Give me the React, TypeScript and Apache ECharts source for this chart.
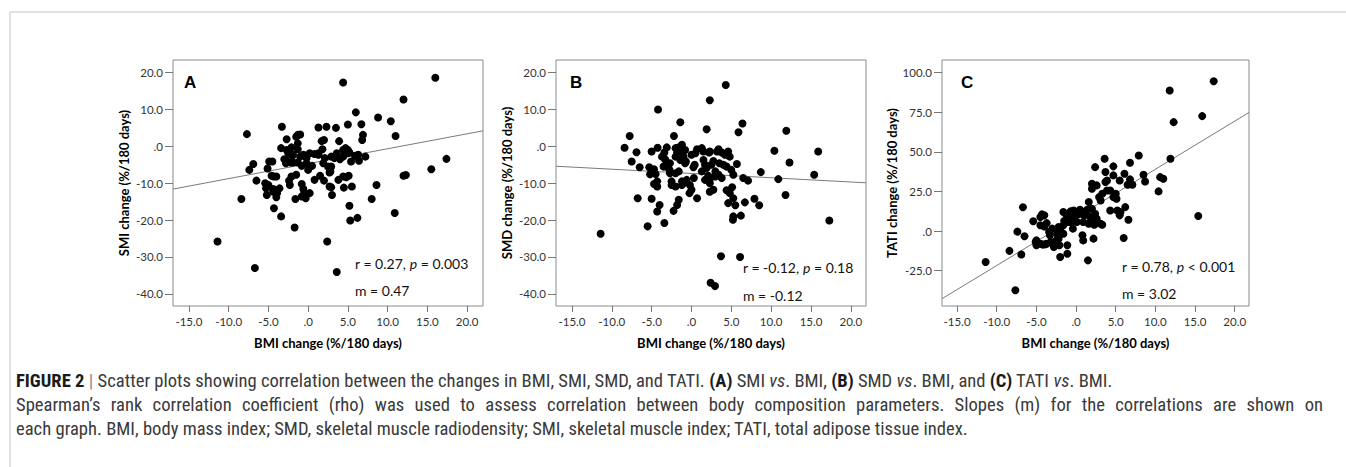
import React, { useEffect, useRef } from "react";
import * as echarts from "echarts";

const xTicks = [-15, -10, -5, 0, 5, 10, 15, 20];
const smiSmdTicks = [-40, -30, -20, -10, 0, 10, 20];
const tatiTicks = [-25, 0, 25, 50, 75, 100];

const smiPoints: number[][] = [
  [-11.4, -25.8], [-8.4, -14.3], [-7.7, 3.3], [-7.4, -6.4], [-6.9, -4.8], [-6.7, -33.0], [-6.5, -9.3],
  [-5.4, -10.0], [-5.3, -11.4], [-5.2, -13.2], [-5.1, -6.0], [-5.0, -10.5], [-4.9, -4.1], [-4.5, -4.1],
  [-4.6, -8.0], [-4.3, -8.2], [-4.4, -11.6], [-4.4, -12.3], [-4.3, -16.8], [-4.0, -8.2], [-4.0, -13.8],
  [-3.9, -12.7], [-3.6, -11.4], [-3.4, -19.0], [-3.4, -0.5], [-3.3, 5.3], [-3.0, -3.5], [-2.8, -3.7],
  [-2.8, -4.6], [-2.7, 1.9], [-2.7, -1.0], [-2.5, -1.9], [-2.4, -9.3], [-2.3, -10.5], [-2.2, -4.4],
  [-2.1, -0.3], [-2.1, -8.2], [-2.0, -2.6], [-1.9, -4.4], [-1.9, -2.3], [-1.7, -22.0], [-1.6, -14.3],
  [-1.5, 2.6], [-1.5, -7.7], [-1.3, 3.1], [-1.3, 0.8], [-1.3, -4.4], [-1.0, 3.2], [-1.3, -0.8],
  [-1.0, -2.8], [-0.8, -5.3], [-0.8, -10.2], [-0.6, -11.6], [-0.6, -2.3], [-0.5, -12.7], [-0.8, -13.6],
  [-0.3, -14.1], [-0.2, -3.2], [-0.2, -4.6], [0.0, -6.4], [0.2, -1.9], [0.2, -12.7], [0.5, -5.3],
  [0.8, -2.1], [0.8, -9.1], [1.3, 5.1], [1.3, -1.9], [1.3, -2.3], [1.5, -8.0], [1.7, 1.4], [2.0, 1.7],
  [1.8, -0.8], [1.9, -4.6], [2.0, -9.3], [2.1, -3.2], [2.3, 5.3], [2.4, -25.8], [2.5, -5.5], [2.7, -10.9],
  [2.8, -6.8], [2.9, -2.8], [2.9, -11.1], [2.9, -5.5], [2.7, -7.1], [3.0, -13.2], [3.3, -3.2], [3.5, 5.0],
  [3.6, -1.9], [3.6, -34.1], [3.8, -9.1], [3.9, 1.4], [4.0, -3.5], [4.4, 17.3], [4.4, -1.0], [4.4, -2.8],
  [4.4, -8.2], [4.5, -11.2], [4.7, -0.5], [4.8, -8.4], [5.0, 5.9], [5.0, -1.0], [5.0, -1.9], [5.1, -8.0],
  [5.2, -1.7], [5.2, -16.1], [5.3, -20.1], [5.4, -4.1], [5.5, -10.9], [5.9, -2.6], [6.0, 9.2],
  [6.2, -19.4], [6.3, -2.3], [6.4, -3.9], [6.7, 6.0], [6.8, 1.7], [6.9, 3.1], [7.2, -2.8], [8.0, -14.3],
  [8.6, -10.5], [8.8, 7.8], [10.4, 6.8], [10.9, -18.1], [11.0, 2.8], [12.0, 12.7], [12.0, -8.0],
  [12.3, -7.8], [15.5, -6.2], [16.0, 18.6], [17.4, -3.4],
];

const smdPoints: number[][] = [
  [-11.4, -23.7], [-8.4, -0.4], [-7.75, 2.8], [-7.5, -4.1], [-6.9, -1.6], [-6.75, -14.1], [-6.5, -5.7],
  [-5.5, -21.7], [-5.3, -5.7], [-5.2, -7.6], [-5.0, -1.4], [-5.0, -14.2], [-4.9, -7.1], [-4.7, -6.2],
  [-4.7, -10.2], [-4.5, -7.5], [-4.3, -10.9], [-4.3, -9.5], [-4.3, -17.7], [-4.25, -0.4], [-4.2, 10.0],
  [-4.0, -15.9], [-3.7, -2.8], [-3.5, -5.5], [-3.4, -20.8], [-3.4, -1.7], [-3.3, -3.6], [-3.1, -0.3],
  [-2.9, -5.9], [-2.75, -6.4], [-2.7, -4.6], [-2.7, -7.3], [-2.5, -9.5], [-2.5, -10.5], [-2.25, -17.5],
  [-2.2, 2.8], [-2.0, -0.5], [-2.0, -2.8], [-2.0, -7.3], [-2.0, -10.9], [-1.8, -1.7], [-1.8, -15.9],
  [-1.6, -6.8], [-1.6, -0.3], [-1.6, -14.5], [-1.4, 6.5], [-1.4, -1.4], [-1.4, -3.7], [-1.2, 0.4],
  [-1.2, -9.5], [-1.2, -10.5], [-1.0, -1.2], [-1.0, -2.8], [-0.8, -4.6], [-0.8, -1.0], [-0.7, -4.1],
  [-0.6, -9.1], [-0.9, -9.8], [-0.2, -10.5], [-0.25, -12.7], [0.0, -11.8], [0.0, -2.3], [0.25, -5.7],
  [0.3, -8.6], [0.4, -5.0], [0.5, -1.9], [0.7, -0.8], [0.7, -14.1], [1.3, -0.5], [1.3, -6.8],
  [1.5, -1.4], [1.5, -3.7], [1.7, -5.0], [1.7, -9.1], [1.9, 4.6], [1.9, -5.9], [2.1, -8.0], [2.2, -1.7],
  [2.3, 12.5], [2.3, -1.4], [2.3, -8.9], [2.3, -10.0], [2.3, -12.3], [2.4, -37.0], [2.5, -5.0],
  [2.75, -4.0], [2.75, -11.8], [2.95, -37.9], [3.0, -6.8], [3.0, -8.2], [3.2, -1.4], [3.4, -0.8],
  [3.4, -7.7], [3.5, -4.6], [3.7, -29.8], [3.8, -1.7], [3.8, -8.6], [4.0, -5.0], [4.2, -2.3],
  [4.3, 16.6], [4.4, -11.9], [4.4, -5.5], [4.6, -1.4], [4.6, -15.4], [4.8, -2.8], [4.8, -12.7],
  [5.0, -6.4], [5.1, -11.1], [5.25, -7.7], [5.25, -14.1], [5.25, -19.0], [5.2, -19.9], [5.5, -16.0],
  [5.7, -4.8], [5.9, 3.8], [6.1, -30.0], [6.2, -18.8], [6.4, 6.2], [6.5, -8.6], [6.7, -15.2],
  [7.1, -9.3], [7.9, -14.2], [8.5, -16.0], [8.7, -7.0], [10.4, -1.2], [10.9, -8.9], [11.8, -13.2],
  [11.9, 4.2], [12.3, -4.4], [15.4, -7.7], [15.9, -1.4], [17.3, -20.1],
];

const tatiPoints: number[][] = [
  [-11.4, -19.5], [-8.4, -12.5], [-7.65, -37.4], [-7.4, -0.4], [-6.9, -14.8], [-6.7, 15.0], [-6.5, -3.3],
  [-5.4, 6.2], [-5.1, -6.9], [-5.0, -9.0], [-5.0, -5.9], [-4.5, 8.8], [-4.5, -8.0], [-4.5, 3.6],
  [-4.3, 10.5], [-4.2, -8.6], [-4.0, 9.9], [-4.0, 2.9], [-3.9, -8.4], [-3.7, 5.0], [-3.7, -8.0],
  [-3.4, -0.6], [-3.3, -2.7], [-3.2, -6.9], [-3.0, 1.5], [-2.8, -10.1], [-2.6, -8.0], [-2.5, -6.0],
  [-2.4, -1.7], [-2.2, -4.8], [-2.2, 2.5], [-2.1, -9.0], [-2.0, 0.8], [-2.0, -16.4], [-1.6, 3.6],
  [-1.6, -1.7], [-1.6, 12.0], [-1.5, 6.3], [-1.2, 9.9], [-1.1, -9.0], [-1.1, 5.7], [-1.1, -14.3],
  [-0.9, 8.8], [-0.7, 12.4], [-0.7, 5.7], [-0.5, 9.9], [-0.4, 1.5], [-0.3, 13.0], [-0.3, 6.5],
  [0.0, 12.0], [0.0, 10.3], [0.1, 5.7], [0.3, 10.5], [0.5, 13.4], [0.8, -2.7], [0.9, -5.9], [0.9, 5.7],
  [0.8, 12.0], [1.0, 9.9], [1.4, 13.4], [1.4, 10.3], [1.5, -18.5], [1.6, 18.3], [1.6, 4.6], [1.8, 8.8],
  [1.8, 5.7], [2.0, 14.1], [2.0, 26.7], [2.0, 29.8], [2.2, 4.6], [2.2, -4.8], [2.3, 4.0], [2.4, 10.9],
  [2.4, 40.3], [2.6, 28.8], [2.6, 7.8], [2.9, 21.4], [3.1, 4.6], [3.1, 19.3], [3.3, 23.5], [3.3, 4.0],
  [3.6, 45.6], [3.7, 37.2], [3.7, 30.9], [3.9, 31.9], [3.9, 25.6], [4.3, 13.0], [4.3, 25.6],
  [4.7, 40.8], [4.7, 35.1], [4.7, 21.4], [5.0, 23.5], [5.1, 20.4], [5.2, 13.0], [5.5, 31.9], [5.5, 9.9],
  [5.6, 12.0], [6.0, -4.4], [6.1, 36.1], [6.2, 15.1], [6.5, 29.2], [6.6, 7.1], [6.8, 43.1], [6.8, 32.6],
  [7.1, 29.2], [7.9, 47.7], [8.5, 35.5], [8.7, 31.3], [10.4, 25.0], [10.6, 34.0], [11.0, 33.0],
  [11.8, 88.7], [11.9, 45.6], [12.3, 68.7], [15.4, 9.5], [15.9, 72.5], [17.35, 94.5],
];

const smiFit = [[-17, -11.6], [22, 4.2]];
const smdFit = [[-17, -5.4], [21.9, -9.9]];
const tatiFit = [[-16.9, -42.7], [21.8, 74.8]];

const panelLetters = ["A", "B", "C"];
const yTitles = ["SMI change (%/180 days)", "SMD change (%/180 days)", "TATI change (%/180 days)"];
const xTitle = "BMI change (%/180 days)";
const statLines = [
  ["r = 0.27, {i|p} = 0.003", "m = 0.47"],
  ["r = -0.12, {i|p} = 0.18", "m = -0.12"],
  ["r = 0.78, {i|p} < 0.001", "m = 3.02"],
];
const captionLine1 =
  "{b|FIGURE 2} {bar||} Scatter plots showing correlation between the changes in BMI, SMI, SMD, and TATI. {b|(A)} SMI {i|vs}. BMI, {b|(B)} SMD {i|vs}. BMI, and {b|(C)} TATI {i|vs}. BMI.";
const captionLine2 =
  "Spearman\u2019s rank correlation coefficient (rho) was used to assess correlation between body composition parameters. Slopes (m) for the correlations are shown on";
const captionLine3 =
  "each graph. BMI, body mass index; SMD, skeletal muscle radiodensity; SMI, skeletal muscle index; TATI, total adipose tissue index.";

const TICK_FONT = "Lato, 'Open Sans', sans-serif";
const CAP_FONT = "'Liberation Sans Narrow', 'Roboto Condensed', Roboto, sans-serif";
const CAP_SIZE = 18.6;
const fmt = (v: number) => (v === 0 ? ".0" : v.toFixed(1));

const grids = [
  { left: 173, width: 310, ymin: -43.3, ymax: 23.4, xmin: -17, xmax: 22, yTicks: smiSmdTicks },
  { left: 556, width: 310, ymin: -43.3, ymax: 23.4, xmin: -17, xmax: 21.9, yTicks: smiSmdTicks },
  { left: 942, width: 307, ymin: -47.3, ymax: 107.9, xmin: -16.9, xmax: 21.8, yTicks: tatiTicks },
];
const statX = [355, 743, 1122];
const statY = [[263, 290], [267, 295], [266, 293]];
const letterX = [184, 570, 961];

export default function App() {
  const ref = useRef<HTMLDivElement>(null);
  useEffect(() => {
    if (!ref.current) return;
    const chart = echarts.init(ref.current, null, { renderer: "svg" });
    const points = [smiPoints, smdPoints, tatiPoints];
    const fits = [smiFit, smdFit, tatiFit];

    const canvas = document.createElement("canvas");
    const ctx = canvas.getContext("2d")!;
    ctx.font = `${CAP_SIZE}px ${CAP_FONT}`;

    const capRich = {
      b: { fontWeight: "bold", fontSize: CAP_SIZE, fontFamily: CAP_FONT, fill: "#1a1a1a" },
      i: { fontStyle: "italic", fontSize: CAP_SIZE, fontFamily: CAP_FONT, fill: "#3a3a3a" },
      bar: { fontSize: CAP_SIZE, fontFamily: CAP_FONT, fill: "#888" },
    };
    const graphic: any[] = [
      { type: "line", shape: { x1: 10, y1: 12, x2: 1346, y2: 12 }, style: { stroke: "#c4c4c4", lineWidth: 1 } },
      { type: "line", shape: { x1: 10, y1: 12, x2: 10, y2: 467 }, style: { stroke: "#c4c4c4", lineWidth: 1 } },
    ];
    grids.forEach((g, i) => {
      graphic.push({
        type: "text",
        x: letterX[i],
        y: 82,
        style: { text: panelLetters[i], font: "bold 17px 'Liberation Sans', Arial, sans-serif", fill: "#000", verticalAlign: "middle" },
      });
      statLines[i].forEach((t, j) => {
        graphic.push({
          type: "text",
          x: statX[i],
          y: statY[i][j],
          style: {
            text: t,
            fontSize: 14,
            fontFamily: TICK_FONT,
            fill: "#111",
            verticalAlign: "middle",
            rich: { i: { fontStyle: "italic", fontSize: 14, fontFamily: TICK_FONT, fill: "#111" } },
          },
        });
      });
    });
    [captionLine1, captionLine3].forEach((t, k) => {
      graphic.push({
        type: "text",
        x: 16,
        y: k === 0 ? 381 : 429,
        style: { text: t, fontSize: CAP_SIZE, fontFamily: CAP_FONT, fill: "#3a3a3a", verticalAlign: "middle", rich: capRich },
      });
    });
    // justified second caption line
    const words = captionLine2.split(" ");
    const widths = words.map((w) => ctx.measureText(w).width);
    const total = widths.reduce((a, b) => a + b, 0);
    const gap = (1323 - 16 - total) / (words.length - 1);
    let cx = 16;
    words.forEach((w, k) => {
      graphic.push({
        type: "text",
        x: cx,
        y: 405,
        style: { text: w, fontSize: CAP_SIZE, fontFamily: CAP_FONT, fill: "#3a3a3a", verticalAlign: "middle" },
      });
      cx += widths[k] + gap;
    });

    chart.setOption({
      animation: false,
      backgroundColor: "#fff",
      grid: grids.map((g) => ({
        left: g.left,
        top: 60,
        width: g.width,
        height: 246,
        show: true,
        borderColor: "#8a8a8a",
        borderWidth: 1,
        backgroundColor: "transparent",
      })),
      xAxis: grids.map((g, i) => ({
        type: "value",
        gridIndex: i,
        min: g.xmin,
        max: g.xmax,
        name: xTitle,
        nameLocation: "middle",
        nameGap: 30,
        nameTextStyle: { fontWeight: "bold", fontSize: 13, fontFamily: TICK_FONT, color: "#000" },
        axisLine: { show: false, onZero: false },
        splitLine: { show: false },
        axisTick: { show: true, length: 6, lineStyle: { color: "#777" }, customValues: xTicks },
        axisLabel: { customValues: xTicks, formatter: fmt, fontSize: 11.5, fontFamily: TICK_FONT, color: "#333", margin: 9 },
      })),
      yAxis: grids.map((g, i) => ({
        type: "value",
        gridIndex: i,
        min: g.ymin,
        max: g.ymax,
        name: yTitles[i],
        nameLocation: "middle",
        nameGap: 43,
        nameTextStyle: { fontWeight: "bold", fontSize: 13, fontFamily: TICK_FONT, color: "#000" },
        axisLine: { show: false, onZero: false },
        splitLine: { show: false },
        axisTick: { show: true, length: 8, lineStyle: { color: "#777" }, customValues: g.yTicks },
        axisLabel: { customValues: g.yTicks, formatter: fmt, fontSize: 11.5, fontFamily: TICK_FONT, color: "#333", margin: 10 },
      })),
      series: [
        ...fits.map((f, i) => ({
          type: "line",
          xAxisIndex: i,
          yAxisIndex: i,
          data: f,
          symbol: "none",
          silent: true,
          z: 1,
          lineStyle: { color: "#7a7a7a", width: 1 },
        })),
        ...points.map((p, i) => ({
          type: "scatter",
          xAxisIndex: i,
          yAxisIndex: i,
          data: p,
          symbolSize: 8,
          silent: true,
          z: 3,
          itemStyle: { color: "#000", opacity: 1 },
        })),
      ],
      graphic,
    });
    return () => chart.dispose();
  }, []);
  return <div ref={ref} style={{ position: "absolute", left: 0, top: 0, width: 1346, height: 467 }} />;
}
